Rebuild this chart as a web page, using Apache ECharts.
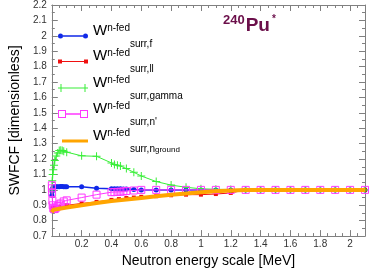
<!DOCTYPE html>
<html>
<head>
<meta charset="utf-8">
<script src="https://cdn.jsdelivr.net/npm/echarts@6/dist/echarts.min.js"></script>
<style>html,body{margin:0;padding:0;background:#fff}#c{width:370px;height:273px}</style>
</head>
<body>
<div id="c"></div>
<script>
// ---- data ----
const tailX = [1.3, 1.4, 1.5, 1.6, 1.7, 1.8, 1.9, 2.0, 2.1];
const tailY = [1, 1, 1, 1, 1, 1, 1, 1, 1];

const fX = [0.0005, 0.003, 0.006, 0.01, 0.02, 0.03, 0.04, 0.05, 0.06, 0.07, 0.08, 0.09, 0.1, 0.2, 0.3, 0.4, 0.42, 0.44, 0.46, 0.48, 0.5, 0.55, 0.6, 0.7, 0.8, 0.9, 1.0, 1.1, 1.2];
const fY = [0.965, 0.99, 1.01, 1.018, 1.02, 1.021, 1.021, 1.021, 1.022, 1.022, 1.021, 1.021, 1.021, 1.021, 1.011, 1.008, 1.008, 1.008, 1.007, 1.006, 1.005, 1.003, 1.0, 1.0, 1.0, 1.0, 1.0, 1.0, 1.0];

const llX = [0.001, 0.003, 0.006, 0.01, 0.02, 0.03, 0.05, 0.1, 0.2, 0.3, 0.4, 0.45, 0.5, 0.55, 0.6, 0.7, 0.8, 0.9, 1.0, 1.1, 1.2];
const llY = [0.87, 0.875, 0.88, 0.882, 0.884, 0.885, 0.888, 0.9, 0.912, 0.922, 0.935, 0.94, 0.947, 0.95, 0.955, 0.959, 0.965, 0.969, 0.969, 0.973, 0.98];

const gammaX = [0.001, 0.003, 0.006, 0.01, 0.015, 0.02, 0.03, 0.04, 0.05, 0.06, 0.07, 0.08, 0.1, 0.2, 0.3, 0.4, 0.42, 0.44, 0.46, 0.5, 0.55, 0.6, 0.7, 0.8, 0.9, 1.0, 1.1, 1.2];
const gammaY = [1.0, 1.06, 1.1, 1.13, 1.16, 1.19, 1.22, 1.24, 1.255, 1.258, 1.255, 1.25, 1.245, 1.221, 1.218, 1.175, 1.165, 1.16, 1.155, 1.138, 1.114, 1.09, 1.054, 1.031, 1.017, 1.007, 1.004, 1.002];

const npX = [0.0005, 0.001, 0.002, 0.004, 0.006, 0.01, 0.015, 0.02, 0.03, 0.04, 0.05, 0.06, 0.08, 0.1, 0.2, 0.3, 0.4, 0.42, 0.44, 0.46, 0.48, 0.5, 0.55, 0.6, 0.7, 0.8, 0.9, 1.0, 1.1, 1.2];
const npY = [1.03, 1.01, 0.98, 0.93, 0.9, 0.88, 0.875, 0.876, 0.885, 0.895, 0.905, 0.912, 0.925, 0.932, 0.95, 0.969, 0.985, 0.986, 0.987, 0.988, 0.99, 0.993, 0.996, 1.0, 1.0, 1.0, 1.0, 1.0, 1.0, 1.0];

const ngX = [0, 0.005, 0.01, 0.02, 0.05, 0.1, 0.2, 0.3, 0.4, 0.5, 0.6, 0.7, 0.8, 0.9, 1.0, 1.1, 1.2];
const ngY = [0.855, 0.865, 0.87, 0.873, 0.878, 0.885, 0.9, 0.915, 0.928, 0.938, 0.948, 0.958, 0.968, 0.977, 0.985, 0.991, 0.996];

const xTicks = {min: 0, max: 2.1, interval: 0.2};
const yTicks = {min: 0.7, max: 2.2, interval: 0.1};

const seriesNames = ['f', 'll', 'gamma', 'np', 'ng'];
const subLabels = {f: 'surr,f', ll: 'surr,ll', gamma: 'surr,gamma', np: "surr,n'", ng: 'surr,n'};
const colors = {f: '#1029e8', ll: '#f01010', gamma: '#38ee38', np: '#ff38ff', ng: '#ffa500'};

function pairs(xs, ys) {
  const all = xs.concat(tailX), v = ys.concat(tailY);
  return all.map((x, i) => [x, v[i]]);
}

const plusPath = 'path://M3.5,0H4.5V3.5H8V4.5H4.5V8H3.5V4.5H0V3.5H3.5Z';

const chart = echarts.init(document.getElementById('c'), null, {renderer: 'canvas'});

const font = 'Liberation Sans, Arial, Helvetica, sans-serif';
const axisCol = '#808080';

const richLegend = {
  w: {fontSize: 15, fontFamily: font, color: '#000', lineHeight: 21, verticalAlign: 'top'},
  sup: {fontSize: 10, fontFamily: font, color: '#000', lineHeight: 10, verticalAlign: 'top'},
  sub: {fontSize: 10, fontFamily: font, color: '#000', lineHeight: 4, verticalAlign: 'bottom'},
  subsub: {fontSize: 8, fontFamily: font, color: '#000', lineHeight: 0, verticalAlign: 'bottom'},
  full: {lineHeight: 26, fontSize: 1}
};
function legendFmt(name) {
  let s = '{full|}{w|W}{sup|n-fed}{sub|' + subLabels[name] + '}';
  if (name === 'ng') s += '{subsub|ground}';
  return s;
}

const legendIcons = {
  f: 'path://M5,1.8H25V3.2H5Z M0,2.5A2.5,2.5,0,1,0,5,2.5A2.5,2.5,0,1,0,0,2.5Z M25,2.5A2.5,2.5,0,1,0,30,2.5A2.5,2.5,0,1,0,25,2.5Z',
  ll: 'path://M0,0H4V4H0Z M26,0H30V4H26Z M4,1.5H26V2.5H4Z',
  gamma: 'path://M0,3.5H30V4.5H0Z M2.5,0H3.5V8H2.5Z M26.5,0H27.5V8H26.5Z',
  np: 'path://M0,0H8V8H0Z M1,1V7H7V1Z M22,0H30V8H22Z M23,1V7H29V1Z M8,3.2H22V4.8H8Z',
  ng: 'path://M0,0H26V3H0Z'
};
const legendCenters = {f: 36, ll: 61.5, gamma: 88, np: 114, ng: 141};
const legendDims = {f: [30, 5], ll: [30, 4], gamma: [30, 8], np: [30, 8], ng: [26, 3]};

const legends = seriesNames.map(n => ({
  data: [{name: n, icon: legendIcons[n]}],
  left: n === 'ng' ? 62 : 58,
  top: legendCenters[n] - 13,
  padding: 0,
  itemWidth: legendDims[n][0],
  itemHeight: legendDims[n][1],
  selectedMode: false,
  itemStyle: {color: colors[n], borderWidth: 0},
  formatter: legendFmt,
  textStyle: {rich: richLegend}
}));

function xAxisBase(pos, showLabel) {
  return {
    type: 'value', position: pos, min: xTicks.min, max: xTicks.max, interval: xTicks.interval,
    axisLine: {show: true, onZero: false, lineStyle: {color: axisCol, width: 1}},
    axisTick: {show: true, inside: true, length: 6, lineStyle: {color: axisCol}},
    minorTick: {show: true, splitNumber: 4, length: 3, lineStyle: {color: axisCol}},
    splitLine: {show: false},
    axisLabel: {show: showLabel, fontSize: 10, fontFamily: font, color: '#333', margin: 3,
      showMaxLabel: false, showMinLabel: false,
      formatter: v => (Math.abs(v) < 1e-9 || v > 2.05 ? '' : String(Math.round(v * 10) / 10))}
  };
}
function yAxisBase(pos, showLabel) {
  return {
    type: 'value', position: pos, min: yTicks.min, max: yTicks.max, interval: yTicks.interval,
    axisLine: {show: true, onZero: false, lineStyle: {color: axisCol, width: 1}},
    axisTick: {show: true, inside: true, length: 6, lineStyle: {color: axisCol}},
    minorTick: {show: true, splitNumber: 2, length: 3, lineStyle: {color: axisCol}},
    splitLine: {show: false},
    axisLabel: {show: showLabel, fontSize: 10, fontFamily: font, color: '#333', margin: 5,
      formatter: v => String(Math.round(v * 10) / 10)}
  };
}

const xBottom = Object.assign(xAxisBase('bottom', true), {
  name: 'Neutron energy scale [MeV]', nameLocation: 'middle', nameGap: 11,
  nameTextStyle: {fontSize: 14, fontFamily: font, color: '#000'}
});
const xTop = xAxisBase('top', false);
const yLeft = Object.assign(yAxisBase('left', true), {
  name: 'SWFCF [dimensionless]', nameLocation: 'middle', nameGap: 19,
  nameTextStyle: {fontSize: 14, fontFamily: font, color: '#000'}
});
const yRight = yAxisBase('right', false);

const option = {
  animation: false,
  backgroundColor: '#fff',
  grid: {left: 33, right: 5, top: 4.5, bottom: 27, containLabel: false},
  title: {
    text: '{a|240}{b|Pu}{c|*}', left: 223, top: 14, padding: 0,
    textStyle: {rich: {
      a: {fontSize: 13, fontFamily: font, color: '#6b0f4a', verticalAlign: 'top', lineHeight: 12, padding: [0, 1, 0, 0]},
      b: {fontSize: 19, fontFamily: font, color: '#6b0f4a', lineHeight: 24},
      c: {fontSize: 10, fontFamily: font, color: '#6b0f4a', verticalAlign: 'top', lineHeight: 6, padding: [0, 0, 0, 2]}
    }}
  },
  legend: legends,
  xAxis: [xBottom, xTop],
  yAxis: [yLeft, yRight],
  series: [
    {name: 'f', type: 'line', data: pairs(fX, fY), symbol: 'circle', symbolSize: 5, showAllSymbol: true,
      lineStyle: {color: colors.f, width: 1.5}, itemStyle: {color: colors.f}, z: 2},
    {name: 'll', type: 'line', data: pairs(llX, llY), symbol: 'rect', symbolSize: 4, showAllSymbol: true,
      lineStyle: {color: colors.ll, width: 1}, itemStyle: {color: colors.ll}, z: 3},
    {name: 'gamma', type: 'line', data: pairs(gammaX, gammaY), symbol: plusPath, symbolSize: 8, showAllSymbol: true,
      lineStyle: {color: colors.gamma, width: 1}, itemStyle: {color: colors.gamma}, z: 4},
    {name: 'np', type: 'line', data: pairs(npX, npY), symbol: 'rect', symbolSize: 7, showAllSymbol: true,
      lineStyle: {color: colors.np, width: 1}, itemStyle: {color: 'rgba(0,0,0,0)', borderColor: colors.np, borderWidth: 1}, z: 5},
    {name: 'ng', type: 'line', data: pairs(ngX, ngY), symbol: 'none', showSymbol: false,
      lineStyle: {color: colors.ng, width: 4}, itemStyle: {color: colors.ng}, z: 6}
  ]
};
chart.setOption(option);
</script>
</body>
</html>
